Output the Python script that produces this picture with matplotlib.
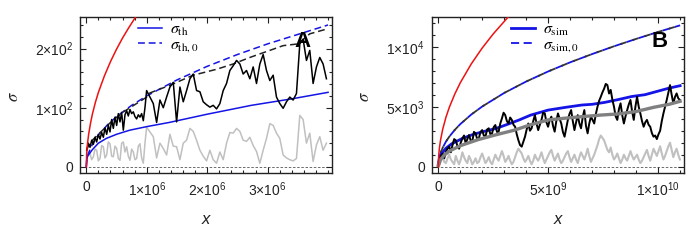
import numpy as np
import matplotlib
matplotlib.use('Agg')
import matplotlib.pyplot as plt
from matplotlib.ticker import FixedLocator, AutoMinorLocator

plt.rcParams['font.family'] = ['Liberation Sans', 'DejaVu Sans']
plt.rcParams['mathtext.fontset'] = 'custom'
plt.rcParams['mathtext.rm'] = 'Liberation Sans'
plt.rcParams['mathtext.it'] = 'Liberation Sans:italic'
plt.rcParams['mathtext.bf'] = 'Liberation Sans:bold'

# ================= Panel A data (x in units of 1e6) =================
SCALE_A = 1e6
red_a_x = [0, 0.005, 0.01, 0.02, 0.04, 0.07, 0.1, 0.15, 0.2, 0.3, 0.4, 0.5, 0.6, 0.7, 0.8, 0.85]
red_a_y = [0, 20, 28, 40, 56, 74, 89, 109, 126, 154, 178, 199, 218, 235, 251, 259]

th_a_x = [0, 0.005, 0.02, 0.05, 0.1, 0.2, 0.33, 0.5, 0.72, 1, 1.37, 2, 2.73, 3.4, 4.0]
th_a_y = [0, 10, 18, 22, 29, 40, 48, 55, 62, 68, 75, 89, 104, 115, 126]

th0_a_x = [0, 0.01, 0.03, 0.06, 0.1, 0.2, 0.35, 0.5, 0.75, 1, 1.5, 2, 2.5, 3, 3.5, 4.0]
th0_a_y = [0, 12, 21, 29, 38, 54, 71, 85, 104, 120, 147, 170, 190, 208, 224, 240]

env_a_x = [0.006, 0.05, 0.2, 0.4, 0.6, 0.8, 1.0, 1.053, 1.383, 1.769, 2.154, 2.43, 2.705,
           3.036, 3.256, 3.504, 3.697, 3.973]
env_a_y = [28, 40, 55, 75, 92, 105, 118, 125, 138, 155, 165, 174, 185, 197, 205, 208, 225, 233]

black_a_early = [28, 40, 33, 45, 38, 50, 42, 55, 47, 58, 50, 66, 55, 70, 59, 80, 65, 84, 70,
                 90, 76, 92, 62, 88, 95, 86, 97, 90, 93, 85, 81, 88, 84, 90, 78, 100, 129]
black_a_late = [118, 107, 75, 113, 100, 118, 135, 143, 76, 135, 110, 129, 149, 157, 129, 127,
                110, 105, 101, 104, 98, 107, 129, 141, 163, 171, 180, 174, 157, 163, 149, 169,
                141, 174, 190, 163, 146, 155, 118, 107, 99, 110, 118, 113, 124, 208, 216, 180,
                197, 141, 169, 185, 174, 149]

gray_a_early = [11, 25, 22, 12, 17, 30, 28, 10, 14, 36, 34, 15, 20, 42, 39, 18, 17, 35, 31,
                14, 11, 40, 42, 25, 34, 18, 11, 30, 25, 12, 14, 35, 39, 15, 6, 40, 67]
gray_a_late = [59, 51, 15, 40, 31, 20, 55, 35, 34, 12, 40, 45, 65, 60, 45, 28, 18, 10, 28,
               12, 6, 25, 12, 40, 58, 57, 65, 60, 45, 43, 50, 36, 26, 6, 28, 48, 73, 70, 57,
               48, 20, 15, 12, 10, 14, 87, 80, 40, 57, 9, 37, 51, 28, 40]

# ================= Panel B data (x in units of 1e9, y in units of 1e3) =================
SCALE_BX = 1e9
SCALE_BY = 1e3
red_b_x = [0, 0.005, 0.02, 0.05, 0.1, 0.2, 0.35, 0.5, 0.75, 1, 1.5, 2, 2.5, 3.2, 3.3]
red_b_y = [0, 0.49, 0.99, 1.57, 2.21, 3.13, 4.14, 4.95, 6.06, 7.0, 8.57, 9.9, 11.07, 12.52, 12.7]

sim0_b_x = [0.03, 0.1, 0.2, 0.35, 0.5, 0.75, 1, 1.5, 2, 3, 4, 5, 6, 7, 8, 9, 10, 11.0]
sim0_b_y = [0.7, 1.12, 1.59, 2.1, 2.51, 3.07, 3.55, 4.35, 5.02, 6.15, 7.1, 7.94, 8.7, 9.39,
            10.04, 10.65, 11.23, 11.78]

sim_b_x = [0.0, 0.05, 0.15, 0.34, 0.6, 1.1, 1.6, 2.1, 2.63, 3.1, 3.67, 4.2, 5, 5.8, 6.53,
           7.0, 7.57, 8.2, 8.8, 9.4, 10, 10.5, 11.0]
sim_b_y = [0.2, 0.7, 1.1, 1.53, 1.9, 2.36, 2.7, 2.95, 3.19, 3.5, 3.89, 4.3, 4.72, 4.95, 5.14,
           5.2, 5.36, 5.6, 5.85, 6.0, 6.3, 6.55, 6.75]

mean_b_x = [0, 0.1, 0.26, 0.5, 1, 1.8, 2.6, 3.47, 4.2, 5, 5.8, 6.53, 7.37, 8.2, 9, 9.8, 10.5, 11.0]
mean_b_y = [0.1, 0.6, 0.95, 1.3, 1.75, 2.25, 2.65, 3.05, 3.5, 3.9, 4.05, 4.17, 4.3, 4.4, 4.6,
            4.95, 5.2, 5.45]

black_b_y = [0.28, 0.9, 1.1, 0.7, 1.25, 1.5, 1.67, 1.2, 1.8, 2.3,
             2.2, 1.7, 1.5, 2.0, 2.36, 2.6, 1.94, 2.3, 2.64, 2.2,
             2.08, 2.9, 2.78, 2.3, 2.36, 2.9, 3.05, 2.6, 2.5, 3.1,
             3.2, 2.7, 2.78, 3.3, 3.47, 2.9, 2.92, 3.6, 4.03, 4.5,
             4.3, 3.8, 3.6, 4.1, 3.9, 3.5, 3.33, 2.7, 2.2, 1.8,
             1.67, 2.1, 2.5, 3.1, 3.6, 3.0, 3.2, 3.8, 4.3, 3.6,
             3.05, 3.5, 3.9, 4.5, 4.44, 3.7, 3.33, 3.9, 4.17, 3.4,
             2.92, 3.8, 4.44, 4.0, 3.6, 2.9, 2.5, 3.2, 3.9, 4.4,
             4.72, 3.8, 3.05, 3.7, 4.3, 3.6, 3.2, 4.1, 4.72, 3.4,
             2.78, 3.6, 4.17, 3.9, 3.6, 4.4, 5.0, 5.5, 5.83, 6.2,
             6.5, 6.9, 6.8, 6.1, 6.4, 5.6, 5.0, 4.2, 3.9, 4.8,
             5.28, 4.3, 3.6, 4.2, 4.72, 5.2, 5.56, 4.6, 3.9, 5.0,
             5.83, 5.0, 4.44, 3.8, 3.33, 3.7, 3.9, 3.5, 3.33, 2.8,
             2.5, 2.6, 2.3, 2.7, 3.0, 3.8, 4.44, 5.0, 5.56, 6.2,
             6.8, 6.0, 5.28, 5.8, 6.11, 5.7, 5.56]

gray_b_y = [0.1, 0.5, 0.8, 0.4, 0.3, 0.7, 1.0, 0.6, 0.4, 0.2, 0.9, 0.5, 0.2, 0.6, 1.2, 0.8,
            0.5, 0.3, 0.9, 0.6, 0.2, 0.4, 0.7, 0.3, 0.4, 0.8, 1.1, 0.7, 0.3, 0.5, 0.8, 0.4,
            0.2, 0.6, 1.0, 0.7, 0.5, 0.9, 1.3, 0.9, 0.4, 0.6, 0.9, 0.5, 0.2, 0.4, 0.8, 1.2,
            1.5, 1.3, 1.1, 0.7, 0.4, 0.6, 0.9, 0.5, 0.2, 0.5, 1.0, 0.7, 0.5, 0.8, 1.2, 0.7,
            0.3, 0.6, 0.9, 1.2, 1.4, 0.9, 0.5, 0.8, 1.1, 0.6, 0.3, 0.5, 0.8, 1.1, 1.3, 0.8,
            0.4, 0.7, 1.0, 0.6, 0.3, 0.8, 1.2, 0.9, 0.6, 1.0, 1.5, 0.9, 0.4, 0.7, 1.0, 1.4,
            1.8, 2.3, 2.6, 2.4, 2.2, 1.8, 1.4, 1.2, 1.6, 1.0, 0.6, 0.8, 1.1, 0.7, 0.3, 0.6,
            1.0, 0.7, 0.5, 0.9, 1.3, 0.9, 0.6, 0.8, 1.0, 0.6, 0.3, 0.5, 0.8, 1.1, 1.4, 0.9,
            0.5, 1.0, 1.5, 1.2, 0.9, 1.3, 1.7, 1.1, 0.6, 0.9, 1.3, 1.7, 2.0, 1.4, 0.8, 1.2,
            1.5, 1.0, 0.6]

# tick labels
xt_a = [0, 1e6, 2e6, 3e6]
xtl_a = ['0', r'$1{\times}10^{6}$', r'$2{\times}10^{6}$', r'$3{\times}10^{6}$']
yt_a = [0, 100, 200]
ytl_a = ['0', r'$1{\times}10^{2}$', r'$2{\times}10^{2}$']
xt_b = [0, 5e9, 1e10]
xtl_b = ['0', r'$5{\times}10^{9}$', r'$1{\times}10^{10}$']
yt_b = [0, 5e3, 1e4]
ytl_b = ['0', r'$5{\times}10^{3}$', r'$1{\times}10^{4}$']

# ================= Figure =================
fig = plt.figure(figsize=(6.9, 2.41), dpi=100)
axA = fig.add_axes([0.1159, 0.2809, 0.3648, 0.6498])
axB = fig.add_axes([0.6257, 0.2809, 0.3654, 0.6498])

RED = '#ee1111'
BLUE = '#1414e6'
LGRAY = '#c0c0c0'

# ---- Panel A ----
a = lambda v: np.asarray(v, float) * SCALE_A
xa_black = np.concatenate([np.linspace(0.006, 0.998, len(black_a_early)),
                           np.linspace(1.053, 3.973, len(black_a_late))]) * SCALE_A
ya_black = np.array(black_a_early + black_a_late, float)
ya_gray = np.array(gray_a_early + gray_a_late, float)

axA.axhline(0, color='#555555', lw=0.6, ls=(0, (3, 2)), zorder=1)
axA.plot(xa_black, ya_gray, color=LGRAY, lw=1.1, zorder=2)
axA.plot(a(th_a_x), th_a_y, color=BLUE, lw=1.1, zorder=3, label=r'$\sigma_{\rm th}$')
axA.plot(a(th0_a_x), th0_a_y, color=BLUE, lw=1.1, ls=(0, (4.5, 2.5)), zorder=3,
         label=r'$\sigma_{\rm th,0}$')
axA.plot(a(env_a_x), env_a_y, color='#222222', lw=1.1, ls=(0, (4.5, 2.5)), zorder=4)
axA.plot(xa_black, ya_black, color='black', lw=1.1, zorder=5)
axA.plot(a(red_a_x), red_a_y, color=RED, lw=1.1, zorder=6)
axA.set_xlim(-0.105e6, 4.06e6)
axA.set_ylim(-11, 254)

# ---- Panel B ----
bx = lambda v: np.asarray(v, float) * SCALE_BX
by = lambda v: np.asarray(v, float) * SCALE_BY
xb_black = np.linspace(0.045, 10.99, len(black_b_y)) * SCALE_BX
xb_gray = np.linspace(0.045, 10.99, len(gray_b_y)) * SCALE_BX

axB.axhline(0, color='#555555', lw=0.6, ls=(0, (3, 2)), zorder=1)
axB.plot(xb_gray, by(gray_b_y), color=LGRAY, lw=1.5, zorder=2)
axB.plot(bx(sim_b_x), by(sim_b_y), color=BLUE, lw=2.0, zorder=3, label=r'$\sigma_{\rm sim}$')
axB.plot(bx(sim0_b_x), by(sim0_b_y), color=BLUE, lw=1.3, ls=(0, (4.5, 2.5)), zorder=3,
         label=r'$\sigma_{\rm sim,0}$')
axB.plot(bx(sim0_b_x), by(sim0_b_y), color='#333333', lw=1.3, ls=(3.5, (3.5, 3.5)), zorder=4)
axB.plot(xb_black, by(black_b_y), color='black', lw=1.4, zorder=5)
axB.plot(bx(mean_b_x), by(mean_b_y), color='#808080', lw=2.4, zorder=6)
axB.plot(bx(red_b_x), by(red_b_y), color=RED, lw=1.1, zorder=7)
axB.set_xlim(-0.3e9, 11.17e9)
axB.set_ylim(-0.55e3, 12.5e3)

for ax, xt, xtl, yt, ytl, lab, lx, legx in [
        (axA, xt_a, xtl_a, yt_a, ytl_a, 'A', 0.885, 0.225),
        (axB, xt_b, xtl_b, yt_b, ytl_b, 'B', 0.905, 0.31)]:
    ax.xaxis.set_major_locator(FixedLocator(xt))
    ax.set_xticklabels(xtl)
    ax.yaxis.set_major_locator(FixedLocator(yt))
    ax.set_yticklabels(ytl)
    ax.xaxis.set_minor_locator(AutoMinorLocator(5))
    ax.yaxis.set_minor_locator(AutoMinorLocator(5))
    ax.tick_params(which='both', direction='in', top=True, right=True, width=0.8,
                   labelsize=10, colors='#222222', labelcolor='#222222')
    ax.tick_params(which='major', length=4, pad=5)
    ax.tick_params(which='minor', length=2.2)
    for s in ax.spines.values():
        s.set_linewidth(1.0)
        s.set_color('#222222')
    ax.set_xlabel('x', fontsize=12, style='italic', color='#222222')
    ax.xaxis.set_label_coords(0.5, -0.25)
    ax.set_ylabel(r'$\sigma$', fontsize=12, color='#222222', math_fontfamily='stix',
                  rotation=90)
    ax.yaxis.set_label_coords(-0.235, 0.49)
    ax.text(lx, 0.84, lab, transform=ax.transAxes, fontsize=16, fontweight='bold',
            ha='center', va='center', zorder=10)
    leg = ax.legend(loc='upper left', bbox_to_anchor=(legx, 0.98), frameon=False,
                    handlelength=1.5, handletextpad=0.5, labelspacing=-0.05,
                    borderpad=0.1, borderaxespad=0,
                    prop={'size': 11.5, 'math_fontfamily': 'stix'})

fig.savefig('out.png', dpi=100)
